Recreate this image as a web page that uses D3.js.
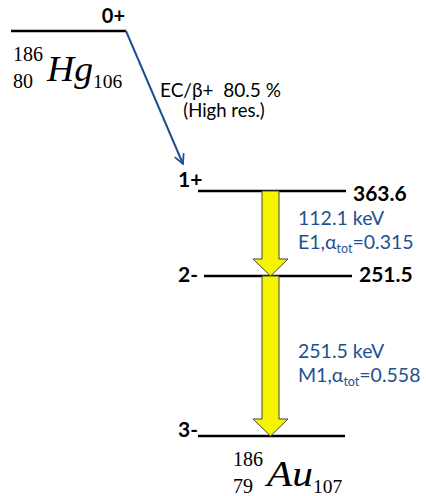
<!DOCTYPE html>
<html>
<head>
<meta charset="utf-8">
<script src="https://cdn.jsdelivr.net/npm/d3@7"></script>
<style>
  body { margin: 0; background: #fff; }
  svg { display: block; }
</style>
</head>
<body>
<svg id="chart" width="426" height="496"></svg>
<script>
// levels of the daughter, keV
const levelEnergies = [363.6, 251.5, 0];
const levelSpins = ["1+", "2-", "3-"];
const levelLabels = ["363.6", "251.5", ""];
// gamma transitions (from energy, to energy)
const gammaFrom = [363.6, 251.5];
const gammaTo = [251.5, 0];
const gammaEnergy = ["112.1 keV", "251.5 keV"];
const gammaMult = ["E1", "M1"];
const gammaAlpha = ["0.315", "0.558"];
// parent decay
const parentSpin = "0+";
const decayMode = "EC/β+  80.5 %";
const decayNote = "(High res.)";

const svg = d3.select("#chart");
const sans = "Lato, 'Open Sans', sans-serif";
const serif = "'Liberation Serif', 'DejaVu Serif', serif";
const blue = "#1f5190";

// piecewise energy scale (diagram is not to scale)
const y = d3.scaleLinear()
    .domain([0, 251.5, 363.6])
    .range([436, 276, 191]);

// parent level
const parentY = 31;
svg.append("line")
    .attr("x1", 11).attr("x2", 126)
    .attr("y1", parentY).attr("y2", parentY)
    .attr("stroke", "#000").attr("stroke-width", 2.5);
svg.append("text")
    .attr("x", 125).attr("y", 23)
    .attr("text-anchor", "end")
    .attr("font-family", sans).attr("font-weight", "bold").attr("font-size", 20)
    .text(parentSpin);

// nuclide label helper
function nuclide(x, yb, A, Z, sym, N) {
  const g = svg.append("g").attr("font-family", serif);
  g.append("text").attr("x", x).attr("y", yb - 27).attr("font-size", 20).text(A);
  g.append("text").attr("x", x).attr("y", yb).attr("font-size", 20).text(Z);
  g.append("text").attr("x", x + 34).attr("y", yb - 7)
      .attr("font-size", 35).attr("font-style", "italic")
      .attr("textLength", 46).attr("lengthAdjust", "spacingAndGlyphs")
      .text(sym);
  g.append("text").attr("x", x + 80).attr("y", yb)
      .attr("font-size", 19.5).text(N);
}
nuclide(13, 88, "186", "80", "Hg", "106");

// decay arrow
svg.append("defs").append("marker")
    .attr("id", "head").attr("viewBox", "0 0 10 10")
    .attr("refX", 9).attr("refY", 5)
    .attr("markerWidth", 6).attr("markerHeight", 6)
    .attr("orient", "auto")
  .append("path")
    .attr("d", "M1,1 L9,5 L1,9")
    .attr("fill", "none").attr("stroke", blue).attr("stroke-width", 1.5);
svg.append("line")
    .attr("x1", 126).attr("y1", parentY)
    .attr("x2", 183).attr("y2", 164)
    .attr("stroke", blue).attr("stroke-width", 2)
    .attr("marker-end", "url(#head)");
svg.append("text")
    .attr("x", 160).attr("y", 97)
    .attr("font-family", sans).attr("font-size", 19)
    .style("white-space", "pre")
    .text(decayMode);
svg.append("text")
    .attr("x", 224).attr("y", 117)
    .attr("text-anchor", "middle")
    .attr("font-family", sans).attr("font-size", 18.5)
    .text(decayNote);

// daughter levels
const levelX1 = [198, 204, 198];
const levelX2 = [346, 352, 345];
const spinDy = [-4, 6, 1];
const lv = svg.selectAll("g.level")
    .data(levelEnergies)
    .join("g").attr("class", "level");
lv.append("line")
    .attr("x1", (d, i) => levelX1[i]).attr("x2", (d, i) => levelX2[i])
    .attr("y1", d => y(d)).attr("y2", d => y(d))
    .attr("stroke", "#000").attr("stroke-width", 2.5);
lv.append("text")
    .attr("x", 178).attr("y", (d, i) => y(d) + spinDy[i])
    .attr("font-family", sans).attr("font-weight", "bold").attr("font-size", 21)
    .text((d, i) => levelSpins[i]);
lv.append("text")
    .attr("x", (d, i) => levelX2[i] + 7).attr("y", (d, i) => y(d) + (i === 0 ? 10 : 6))
    .attr("font-family", sans).attr("font-weight", "bold").attr("font-size", 21)
    .text((d, i) => levelLabels[i]);

// gamma arrows
const ax = 270.5, shaftW = 17, headW = 35, headH = 17;
svg.selectAll("path.gamma")
  .data(gammaFrom)
  .join("path")
    .attr("class", "gamma")
    .attr("d", (d, i) => {
      const y0 = y(d), y1 = y(gammaTo[i]), yh = y1 - headH;
      return `M${ax - shaftW / 2},${y0} L${ax + shaftW / 2},${y0} L${ax + shaftW / 2},${yh}
        L${ax + headW / 2},${yh} L${ax},${y1} L${ax - headW / 2},${yh}
        L${ax - shaftW / 2},${yh} Z`;
    })
    .attr("fill", "#f5f500").attr("stroke", "#444").attr("stroke-width", 1);

// gamma labels
const gl = svg.selectAll("g.glabel")
  .data(gammaFrom)
  .join("g").attr("class", "glabel")
    .attr("font-family", sans).attr("font-size", 19.5).attr("fill", blue);
const labelY = [225, 358];
gl.append("text")
    .attr("x", 298).attr("y", (d, i) => labelY[i])
    .text((d, i) => gammaEnergy[i]);
const t2 = gl.append("text")
    .attr("x", 298).attr("y", (d, i) => labelY[i] + 24);
t2.append("tspan").text((d, i) => gammaMult[i] + ",α");
t2.append("tspan").attr("font-size", 12.5).attr("dy", 4).text("tot");
t2.append("tspan").attr("dy", -4).text((d, i) => "=" + gammaAlpha[i]);

nuclide(233, 493, "186", "79", "Au", "107");
</script>
</body>
</html>
